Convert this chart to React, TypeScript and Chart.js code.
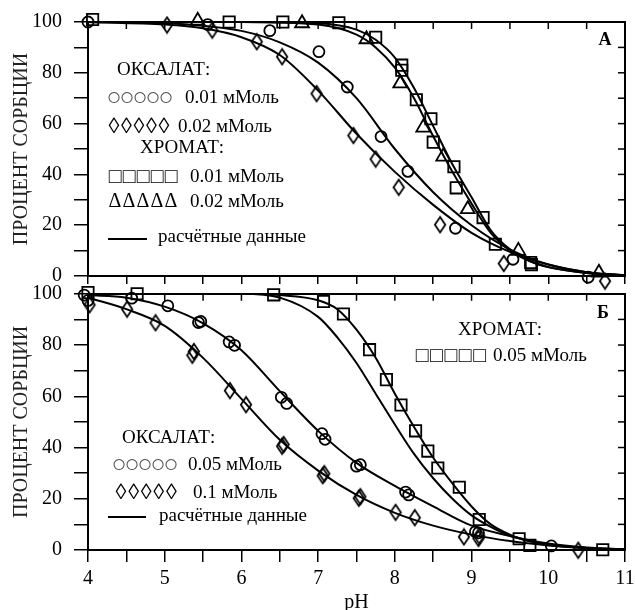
import React, { useEffect, useRef } from 'react';
import { Chart, registerables } from 'chart.js';

Chart.register(...registerables);

const FONT = "'Liberation Serif', 'Times New Roman', serif";

// ---- axes ----
const xTickLabels = ['4', '5', '6', '7', '8', '9', '10', '11'];
const yTickLabels = ['0', '20', '40', '60', '80', '100'];
const yTitle = 'ПРОЦЕНТ СОРБЦИИ';
const xTitle = 'pH';

// ---- Panel А: measured points ----
const oxA001pH = [4.0, 5.56, 6.37, 7.01, 7.38, 7.82, 8.17, 8.79, 9.54, 10.52];
const oxA001 = [100, 99, 96.6, 88.3, 74.4, 54.9, 41.2, 18.8, 6.6, -0.5];
const oxA002pH = [5.03, 5.62, 6.2, 6.53, 6.98, 7.46, 7.75, 8.05, 8.59, 9.42, 10.74];
const oxA002 = [98.8, 96.8, 92.2, 86.3, 71.8, 55.3, 46, 34.9, 20.2, 4.9, -2];
const crA001pH = [4.06, 5.84, 6.54, 7.27, 7.75, 8.09, 8.09, 8.28, 8.47, 8.5, 8.77, 8.8, 9.15, 9.31, 9.77, 9.78];
const crA001 = [101, 100, 100, 99.7, 94, 83, 81, 69.4, 61.9, 52.7, 43, 34.7, 23, 12.5, 5.3, 4.5];
const crA002pH = [5.43, 6.79, 7.63, 8.07, 8.37, 8.63, 8.95, 9.61, 10.66];
const crA002 = [100.5, 99.5, 93.2, 75.8, 58.4, 47, 26.3, 9.9, 1.3];

// ---- Panel А: calculated curves ----
const oxCurveApH = [4, 5, 5.5, 6, 6.5, 7, 7.5, 8, 8.5, 9, 9.5, 10, 10.5, 11];
const oxA001Calc = [100, 99.5, 98.5, 96.5, 92, 84, 70, 50, 33, 20, 10.5, 4.5, 1.5, 0.3];
const oxA002Calc = [100, 99, 97.5, 94, 87, 73, 56, 41, 28, 17, 9.5, 4.5, 1.5, 0.3];
const crCurveApH = [4, 6, 7, 7.5, 7.75, 8, 8.25, 8.5, 8.75, 9, 9.25, 9.5, 9.75, 10, 10.5, 11];
const crA001Calc = [100, 100, 99.5, 97, 93, 86, 74, 59, 44, 31, 18, 10.5, 6, 3.5, 1.2, 0.3];
const crA002Calc = [100, 100, 99, 95, 90, 82, 70, 55, 41, 28.5, 17, 10, 6, 3.5, 1.2, 0.3];

// ---- Panel Б: measured points ----
const oxB005pH = [3.95, 4.0, 4.57, 5.04, 5.44, 5.47, 5.84, 5.91, 6.52, 6.59, 7.05, 7.09, 7.5, 7.55, 8.14, 8.18, 9.05, 9.09, 10.04];
const oxB005 = [99.5, 97.4, 98.3, 95.3, 88.8, 89.2, 81.2, 79.9, 59.6, 57.2, 45.4, 43.2, 32.7, 33.3, 22.6, 21.5, 7.1, 6.7, 1.6];
const oxB01pH = [4.02, 4.51, 4.88, 5.36, 5.38, 5.85, 6.06, 6.53, 6.55, 7.06, 7.08, 7.53, 7.55, 8.01, 8.26, 8.9, 9.09, 9.1, 10.39];
const oxB01 = [95.7, 94, 88.7, 76, 77.5, 62.2, 56.7, 40.5, 41.2, 29, 29.8, 20.2, 20.8, 14.7, 12.6, 5.1, 4.5, 5.5, -0.1];
const crB005pH = [4.0, 4.64, 6.42, 7.07, 7.33, 7.67, 7.89, 8.08, 8.27, 8.43, 8.56, 8.84, 9.1, 9.62, 9.76, 10.71];
const crB005 = [100.5, 100, 99.6, 97, 92.1, 78.2, 66.5, 56.6, 46.5, 38.6, 32, 24.5, 11.9, 4.4, 1.8, 0.1];

// ---- Panel Б: calculated curves ----
const oxCurveBpH = [4, 4.5, 5, 5.5, 6, 6.5, 7, 7.5, 8, 8.5, 9, 9.5, 10, 10.5, 11];
const oxB005Calc = [99.5, 98.5, 95, 88.5, 78, 62, 46.5, 34, 25, 17, 9.5, 5.5, 2.5, 1, 0.3];
const oxB01Calc = [98.5, 94, 87.5, 75, 59, 43, 31, 21.5, 14.5, 9.5, 6, 3.5, 1.8, 0.7, 0.2];
const crCurveBpH = [4, 6, 6.5, 7, 7.25, 7.5, 7.75, 8, 8.25, 8.5, 8.75, 9, 9.25, 9.5, 9.75, 10, 10.5, 11];
const crB005Calc = [100, 100, 99.5, 97.5, 94, 86, 75, 61, 48, 36, 26, 17, 10, 6, 3.5, 2, 0.8, 0.2];
const crB005Calc2 = [100, 100, 98.5, 91, 83, 73, 61, 49, 37.5, 28, 20, 13.5, 9, 5.5, 3.5, 2, 0.8, 0.2];

const pts = (xs: number[], ys: number[]) => xs.map((x, i) => ({ x, y: ys[i] }));

function makeDiamond(w: number, h: number, lw: number) {
  const c = document.createElement('canvas');
  c.width = Math.ceil(w + lw * 2);
  c.height = Math.ceil(h + lw * 2);
  const ctx = c.getContext('2d')!;
  ctx.lineWidth = lw;
  ctx.strokeStyle = '#000';
  ctx.beginPath();
  ctx.moveTo(c.width / 2, lw);
  ctx.lineTo(c.width - lw, c.height / 2);
  ctx.lineTo(c.width / 2, c.height - lw);
  ctx.lineTo(lw, c.height / 2);
  ctx.closePath();
  ctx.stroke();
  return c;
}

function markers(xs: number[], ys: number[], style: any, radius: number) {
  return {
    data: pts(xs, ys),
    showLine: false,
    pointStyle: style,
    pointRadius: radius,
    pointBorderColor: '#000',
    pointBackgroundColor: 'rgba(0,0,0,0)',
    pointBorderWidth: 1.8,
    clip: false,
  };
}

function curve(xs: number[], ys: number[]) {
  return {
    data: pts(xs, ys),
    showLine: true,
    pointRadius: 0,
    borderColor: '#000',
    borderWidth: 2,
    cubicInterpolationMode: 'monotone',
    fill: false,
  };
}

const notesPlugin = {
  id: 'frameNotes',
  afterDraw(chart: any, _args: any, opts: any) {
    const { ctx, chartArea: a, scales } = chart;
    ctx.save();
    ctx.strokeStyle = '#000';
    ctx.lineWidth = 1.5;
    scales.x.ticks.forEach((t: any) => {
      const px = scales.x.getPixelForValue(t.value);
      ctx.beginPath();
      ctx.moveTo(px, a.top);
      ctx.lineTo(px, a.top + opts.inTick);
      ctx.stroke();
    });
    scales.y.ticks.forEach((t: any) => {
      const py = scales.y.getPixelForValue(t.value);
      ctx.beginPath();
      ctx.moveTo(a.right, py);
      ctx.lineTo(a.right - opts.inTick, py);
      ctx.stroke();
    });
    ctx.textBaseline = 'middle';
    for (const it of opts.items) {
      if (it.kind === 'line') {
        ctx.lineWidth = 2;
        ctx.beginPath();
        ctx.moveTo(it.x1, it.y);
        ctx.lineTo(it.x2, it.y);
        ctx.stroke();
      } else if (it.kind === 'sym') {
        ctx.font = it.font;
        ctx.fillStyle = it.color || '#000';
        ctx.textAlign = 'center';
        for (let i = 0; i < it.n; i++) ctx.fillText(it.ch, it.x + i * it.pitch, it.y);
      } else {
        ctx.font = it.font || `19px ${FONT}`;
        ctx.fillStyle = it.color || '#000';
        ctx.textAlign = it.align || 'left';
        ctx.fillText(it.text, it.x, it.y);
      }
    }
    ctx.restore();
  },
};

function buildOptions(cfg: any) {
  const border = { display: true, color: '#000', width: 2 };
  return {
    responsive: false,
    animation: false,
    events: [],
    layout: { padding: 0 },
    plugins: {
      legend: { display: false },
      tooltip: { enabled: false },
      title: { display: false },
      frameNotes: { inTick: 7, items: cfg.items },
    },
    scales: {
      x: {
        type: 'linear', position: 'bottom', min: 4, max: 11,
        afterFit: (s: any) => { s.height = cfg.xH; s.paddingLeft = 0; s.paddingRight = 0; },
        ticks: {
          stepSize: 0.5, autoSkip: false, maxRotation: 0, minRotation: 0, padding: 5,
          color: '#000', font: { family: FONT, size: 20 },
          callback: (v: any) => (cfg.xLabels && xTickLabels.includes(String(v)) ? String(v) : ''),
        },
        grid: { drawOnChartArea: false, drawTicks: true, tickLength: cfg.xTick, color: '#000', lineWidth: 1.5 },
        border,
        title: cfg.xLabels
          ? { display: true, text: xTitle, color: '#000', font: { family: FONT, size: 20, lineHeight: 0.8 }, padding: { top: 0, bottom: -1 } }
          : { display: false },
      },
      x2: {
        type: 'linear', position: 'top', min: 4, max: 11, display: true,
        afterFit: (s: any) => { s.height = cfg.x2H; s.paddingLeft = 0; s.paddingRight = 0; },
        ticks: { display: false },
        grid: { drawOnChartArea: false, drawTicks: false },
        border,
      },
      y: {
        type: 'linear', position: 'left', min: 0, max: 100,
        afterFit: (s: any) => { s.width = 88; s.paddingTop = 0; s.paddingBottom = 0; },
        ticks: {
          stepSize: 10, autoSkip: false, padding: 12, color: '#000', font: { family: FONT, size: 20 },
          callback: (v: any) => (yTickLabels.includes(String(v)) ? String(v) : ''),
        },
        grid: { drawOnChartArea: false, drawTicks: true, tickLength: 14, color: '#000', lineWidth: 1.5 },
        border,
        title: { display: true, text: yTitle, color: '#222', font: { family: FONT, size: 20 }, padding: { top: 10, bottom: 0 } },
      },
      y2: {
        type: 'linear', position: 'right', min: 0, max: 100, display: true,
        afterFit: (s: any) => { s.width = 10; s.paddingTop = 0; s.paddingBottom = 0; },
        ticks: { display: false },
        grid: { drawOnChartArea: false, drawTicks: false },
        border,
      },
    },
  };
}

export default function App() {
  const topRef = useRef<HTMLCanvasElement>(null);
  const botRef = useRef<HTMLCanvasElement>(null);

  useEffect(() => {
    const diamond = makeDiamond(10, 15, 1.8);
    const T = `19px ${FONT}`;
    const CIRC = `25px ${FONT}`;
    const topItems = [
      { text: 'ОКСАЛАТ:', x: 117, y: 70, font: T },
      { kind: 'sym', ch: '○', n: 5, x: 114, pitch: 13, y: 98, font: CIRC, color: '#555' },
      { text: '0.01 мМоль', x: 185, y: 98, font: T },
      { kind: 'sym', ch: '◊', n: 5, x: 114, pitch: 12.5, y: 127, font: `22px ${FONT}` },
      { text: '0.02 мМоль', x: 178, y: 127, font: T },
      { text: 'ХРОМАТ:', x: 140, y: 148, font: T },
      { kind: 'sym', ch: '□', n: 5, x: 115, pitch: 14, y: 177, font: `21px ${FONT}` },
      { text: '0.01 мМоль', x: 190, y: 177, font: T },
      { kind: 'sym', ch: 'Δ', n: 5, x: 115, pitch: 14, y: 202, font: `20px ${FONT}` },
      { text: '0.02 мМоль', x: 190, y: 202, font: T },
      { kind: 'line', x1: 108, x2: 147, y: 239 },
      { text: 'расчётные данные', x: 158, y: 237, font: T },
      { text: 'А', x: 605, y: 40, font: `bold 18px ${FONT}`, align: 'center' },
    ];
    const o = 284;
    const botItems = [
      { text: 'ХРОМАТ:', x: 458, y: 330 - o, font: T },
      { kind: 'sym', ch: '□', n: 5, x: 422, pitch: 14.4, y: 356 - o, font: `21px ${FONT}` },
      { text: '0.05 мМоль', x: 493, y: 356 - o, font: T },
      { text: 'Б', x: 603, y: 313 - o, font: `bold 18px ${FONT}`, align: 'center' },
      { text: 'ОКСАЛАТ:', x: 122, y: 438 - o, font: T },
      { kind: 'sym', ch: '○', n: 5, x: 119, pitch: 13, y: 465 - o, font: CIRC, color: '#555' },
      { text: '0.05 мМоль', x: 188, y: 465 - o, font: T },
      { kind: 'sym', ch: '◊', n: 5, x: 121, pitch: 12.6, y: 493 - o, font: `22px ${FONT}` },
      { text: '0.1 мМоль', x: 193, y: 493 - o, font: T },
      { kind: 'line', x1: 108, x2: 146, y: 517 - o },
      { text: 'расчётные данные', x: 159, y: 516 - o, font: T },
    ];

    const top = new Chart(topRef.current!, {
      type: 'scatter',
      data: {
        datasets: [
          curve(oxCurveApH, oxA001Calc),
          curve(oxCurveApH, oxA002Calc),
          curve(crCurveApH, crA001Calc),
          curve(crCurveApH, crA002Calc),
          markers(oxA001pH, oxA001, 'circle', 5.5),
          markers(oxA002pH, oxA002, diamond, 7),
          markers(crA001pH, crA001, 'rect', 8),
          markers(crA002pH, crA002, 'triangle', 8),
        ] as any,
      },
      options: buildOptions({ xH: 16, x2H: 22, xTick: 8, xLabels: false, items: topItems }) as any,
      plugins: [notesPlugin as any],
    });

    const bot = new Chart(botRef.current!, {
      type: 'scatter',
      data: {
        datasets: [
          curve(oxCurveBpH, oxB005Calc),
          curve(oxCurveBpH, oxB01Calc),
          curve(crCurveBpH, crB005Calc),
          curve(crCurveBpH, crB005Calc2),
          markers(oxB005pH, oxB005, 'circle', 5.5),
          markers(oxB01pH, oxB01, diamond, 7),
          markers(crB005pH, crB005, 'rect', 8),
        ] as any,
      },
      options: buildOptions({ xH: 60, x2H: 9, xTick: 12, xLabels: true, items: botItems }) as any,
      plugins: [notesPlugin as any],
    });

    return () => {
      top.destroy();
      bot.destroy();
    };
  }, []);

  return (
    <div style={{ position: 'fixed', left: 0, top: 0, width: 635, height: 610, background: '#fff', overflow: 'hidden' }}>
      <canvas ref={topRef} width={635} height={292} style={{ position: 'absolute', left: 0, top: 0, width: 635, height: 292 }} />
      <canvas ref={botRef} width={635} height={326} style={{ position: 'absolute', left: 0, top: 284, width: 635, height: 326 }} />
    </div>
  );
}
